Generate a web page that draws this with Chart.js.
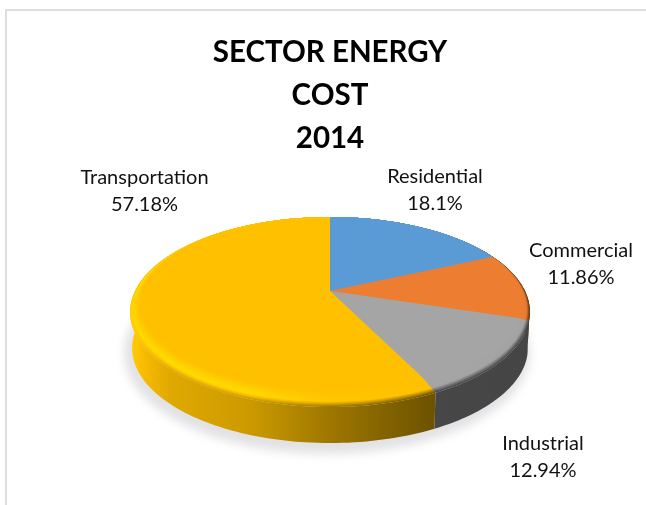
<!DOCTYPE html>
<html>
<head>
<meta charset="utf-8">
<title>Sector energy cost</title>
<style>
    html, body { margin: 0; padding: 0; background: #fff; overflow: hidden; }
    #frame { position: absolute; left: 5px; top: 9px; right: 0; bottom: 0; border-style: solid; border-color: #dedede; border-width: 2px 0 0 2px; }
    #grafik { position: absolute; left: 0; top: 0; display: block; }
</style>
</head>
<body>
<div id="frame"></div>
<canvas id="grafik" width="646" height="505"></canvas>
<script src="https://cdn.jsdelivr.net/npm/chart.js@4/dist/chart.umd.min.js"></script>
<script>
const SECTORS = ['Residential', 'Commercial', 'Industrial', 'Transportation'];
const COST_SHARE = [18.1, 11.86, 12.94, 57.18];
const SECTOR_COLORS = ['#5B9BD5', '#ED7D31', '#A5A5A5', '#FFC000'];
const TITLE_LINES = ['SECTOR ENERGY', 'COST', '2014'];

// centre of each two line label
const LABEL_SPOTS = [[435, 177], [581, 251], [543, 444], [144.5, 178]];

// tilted disc: where the pie centre lands and how the rim is foreshortened
const APEX_Y = 291;
const RIM = { a: 195, b: 90.4, k: 0.221 };
const FACE = { a: 188, b: 84.7, k: 0.1445 };
const DEPTH = 36;

// light falls from the left, sampled across the width of the disc
const LIGHT_X = [130, 145, 170, 250, 330, 431, 530];
const WALL_LIGHT = [1.08, 0.97, 0.88, 0.8, 0.62, 0.43, 0.42];
const BEVEL_LIGHT = [1.1, 1.14, 1.15, 1.14, 1.04, 1.0, 0.98];

function shade(hex, f) {
    const n = parseInt(hex.slice(1), 16);
    const c = [n >> 16, (n >> 8) & 255, n & 255].map(v => Math.min(255, Math.round(v * f)));
    return `rgb(${c[0]},${c[1]},${c[2]})`;
}

function project(cx, angle, lens, dy, shrink) {
    const u = Math.cos(angle);
    const v = Math.sin(angle);
    const d = 1 - lens.k * v;
    return [cx + (lens.a - shrink) * u / d, APEX_Y + dy + lens.b * v / d];
}

function rimPoints(cx, arc, lens, dy, shrink) {
    const pts = [];
    const steps = Math.ceil((arc.endAngle - arc.startAngle) * 40);
    for (let i = 0; i <= steps; i++) {
        const t = arc.startAngle + (arc.endAngle - arc.startAngle) * i / steps;
        pts.push(project(cx, t, lens, dy, shrink));
    }
    return pts;
}

function tracePolygon(ctx, pts) {
    ctx.beginPath();
    pts.forEach((p, i) => i ? ctx.lineTo(p[0], p[1]) : ctx.moveTo(p[0], p[1]));
    ctx.closePath();
}

function sideGradient(ctx, color, factorAt) {
    const first = LIGHT_X[0];
    const last = LIGHT_X[LIGHT_X.length - 1];
    const g = ctx.createLinearGradient(first, 0, last, 0);
    LIGHT_X.forEach((x, i) => {
        g.addColorStop((x - first) / (last - first), shade(color, factorAt(i)));
    });
    return g;
}

function mix(a, b, t) {
    return a + (b - a) * t;
}

const tiltedPie = {
    id: 'tiltedPie',
    beforeDatasetDraw(chart, args) {
        const ctx = chart.ctx;
        const arcs = chart.getDatasetMeta(args.index).data;
        const colors = chart.data.datasets[args.index].backgroundColor;
        const cx = arcs[0].x;

        // soft ground shadow
        ctx.save();
        ctx.filter = 'blur(5px)';
        ctx.fillStyle = '#e2e2e5';
        ctx.beginPath();
        ctx.ellipse(cx - 3, 353, 203, 101, 0, 0, Math.PI * 2);
        ctx.fill();
        ctx.restore();

        // side wall
        arcs.forEach((arc, i) => {
            const top = rimPoints(cx, arc, RIM, 0, 0);
            const bottom = rimPoints(cx, arc, RIM, DEPTH, 2).reverse();
            tracePolygon(ctx, top.concat(bottom));
            ctx.fillStyle = sideGradient(ctx, colors[i], k => WALL_LIGHT[k]);
            ctx.fill();
        });

        // bevel, painted from the rim inwards, then the flat face on top
        const LAYERS = 24;
        for (let n = 0; n <= LAYERS; n++) {
            const t = n / LAYERS;
            const lens = { a: mix(RIM.a, FACE.a, t), b: mix(RIM.b, FACE.b, t), k: mix(RIM.k, FACE.k, t) };
            arcs.forEach((arc, i) => {
                const pts = rimPoints(cx, arc, lens, 0, 0);
                pts.push([cx, APEX_Y]);
                tracePolygon(ctx, pts);
                ctx.fillStyle = sideGradient(ctx, colors[i], k => t < 0.3
                    ? mix(WALL_LIGHT[k], BEVEL_LIGHT[k], t / 0.3)
                    : mix(BEVEL_LIGHT[k], 1, (t - 0.3) / 0.7));
                ctx.fill();
            });
        }

        // sector names and shares
        ctx.save();
        ctx.font = '20px Lato';
        ctx.fillStyle = '#111';
        ctx.textAlign = 'center';
        ctx.textBaseline = 'middle';
        SECTORS.forEach((name, i) => {
            ctx.fillText(name, LABEL_SPOTS[i][0], LABEL_SPOTS[i][1]);
            ctx.fillText(COST_SHARE[i] + '%', LABEL_SPOTS[i][0], LABEL_SPOTS[i][1] + 26.5);
        });
        ctx.restore();
        return false;
    }
};

new Chart(document.getElementById('grafik'), {
    type: 'pie',
    plugins: [tiltedPie],
    data: {
        labels: SECTORS,
        datasets: [{ data: COST_SHARE, backgroundColor: SECTOR_COLORS, borderWidth: 0 }]
    },
    options: {
        responsive: false,
        animation: false,
        layout: { padding: { left: 14 } },
        plugins: {
            legend: { display: false },
            tooltip: { enabled: false },
            title: {
                display: true,
                text: TITLE_LINES,
                color: '#000',
                font: { family: 'Lato', size: 29.5, weight: 'bold', lineHeight: 1.458 },
                padding: { top: 31, bottom: 10 }
            }
        }
    }
});
</script>
</body>
</html>
